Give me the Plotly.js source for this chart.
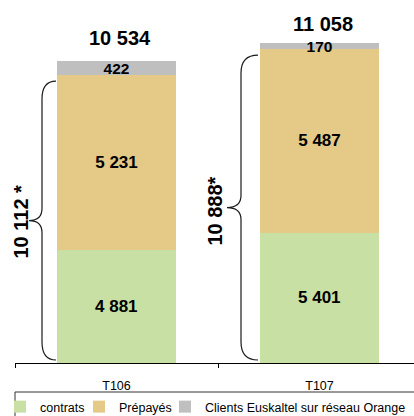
<!DOCTYPE html>
<html><head><meta charset="utf-8">
<script src="https://cdn.plot.ly/plotly-3.0.1.min.js"></script>
<style>html,body{margin:0;padding:0;background:#fff}#chart{width:414px;height:416px}</style>
</head><body><div id="chart"></div>
<script>
// ---- data ----
const categories = ['T106', 'T107'];
const contrats = [4881, 5401];
const prepayes = [5231, 5487];
const euskaltel = [422, 170];
const seriesNames = ['contrats', 'Prépayés', 'Clients Euskaltel sur réseau Orange'];
const braceSuffix = [' *', '*'];

// ---- helpers ----
const fmt = n => String(n).replace(/\B(?=(\d{3})+(?!\d))/g, ' ');
const subtotals = contrats.map((v, i) => v + prepayes[i]);
const totals = subtotals.map((v, i) => v + euskaltel[i]);

const W = 414, H = 416, ML = 15, MR = 0, MT = 20, MB = 53;
const plotW = W - ML - MR, plotH = H - MT - MB;
const Y0 = 1500, Y1 = 11760;
const unitsPerPx = (Y1 - Y0) / plotH;
const px2paper = px => (px - ML) / plotW;
const pyPaper = py => (H - MB - py) / plotH;

const FONT = 'Arial, "Liberation Sans", sans-serif';
const colors = ['#C9E0A5', '#E4CA86', '#BFBFBF'];
const labelSizes = [17, 17, 15.5];
const legendWidths = [34, 41, 200];
// the first series starts below the visible axis start, so its label is placed at the visible middle
const textModes = ['none', 'inside', 'inside'];

function barTrace(vals, i) {
  return {
    type: 'bar', x: categories, y: vals, name: seriesNames[i], width: 0.586,
    marker: {color: colors[i], line: {width: 0}},
    text: vals.map(fmt), textposition: textModes[i], insidetextanchor: 'middle',
    constraintext: 'none',
    textfont: {family: FONT, size: labelSizes[i], color: '#000', weight: 'bold'},
    legendwidth: legendWidths[i], hoverinfo: 'skip'
  };
}
const traces = [barTrace(contrats, 0), barTrace(prepayes, 1), barTrace(euskaltel, 2)];

const shapes = [];
const annotations = [];

// labels of the first series at the middle of its visible part
contrats.forEach((v, i) => {
  annotations.push({
    x: categories[i], y: (Y0 + v) / 2, xref: 'x', yref: 'y', text: fmt(v), showarrow: false,
    xanchor: 'center', yanchor: 'middle',
    font: {family: FONT, size: labelSizes[0], color: '#000', weight: 'bold'}
  });
});

// brace geometry (pixel positions of the brace arms)
const braceX = [{e: 56, v: 42, t: 29, lx: 21}, {e: 258, v: 241, t: 227, lx: 215}];
const braceLabelShift = [-1, -4];
subtotals.forEach((s, i) => {
  const yt = s - 6 * unitsPerPx;
  const yb = Y0 + 3 * unitsPerPx;
  const ym = (yt + yb) / 2;
  const rE = 18 * unitsPerPx, rT = 12 * unitsPerPx;
  const b = braceX[i];
  const xe = px2paper(b.e), xv = px2paper(b.v), xt = px2paper(b.t);
  shapes.push({
    type: 'path', xref: 'paper', yref: 'y',
    path: `M${xe},${yt} Q${xv},${yt} ${xv},${yt - rE} L${xv},${ym + rT} Q${xv},${ym} ${xt},${ym} Q${xv},${ym} ${xv},${ym - rT} L${xv},${yb + rE} Q${xv},${yb} ${xe},${yb}`,
    line: {color: '#1a1a1a', width: 1.2}
  });
  annotations.push({
    xref: 'paper', yref: 'y', x: px2paper(b.lx), y: ym, yshift: braceLabelShift[i],
    text: fmt(s) + braceSuffix[i], textangle: -90, showarrow: false,
    xanchor: 'center', yanchor: 'middle',
    font: {family: FONT, size: 20, color: '#000', weight: 'bold'}
  });
});
const totalShift = [10, 6];
totals.forEach((t, i) => {
  annotations.push({
    x: categories[i], y: t, xref: 'x', yref: 'y', text: fmt(t), showarrow: false,
    xanchor: 'center', yanchor: 'bottom', yshift: totalShift[i], xshift: 3,
    font: {family: FONT, size: 20, color: '#000', weight: 'bold'}
  });
});
// legend frame
shapes.push({
  type: 'rect', xref: 'paper', yref: 'paper',
  x0: 0, x1: 1.1, y0: pyPaper(440), y1: pyPaper(392),
  line: {color: '#333', width: 1}, fillcolor: 'rgba(0,0,0,0)'
});

const layout = {
  width: W, height: H,
  margin: {l: ML, r: MR, t: MT, b: MB, pad: 0, autoexpand: false},
  paper_bgcolor: '#fff', plot_bgcolor: '#fff',
  barmode: 'stack',
  font: {family: FONT, size: 12, color: '#000'},
  showlegend: true,
  legend: {
    orientation: 'h', x: px2paper(0), xanchor: 'left', y: pyPaper(392), yanchor: 'top',
    bgcolor: 'rgba(0,0,0,0)', borderwidth: 0, traceorder: 'normal',
    font: {family: FONT, size: 12.5, color: '#000'}
  },
  xaxis: {
    type: 'category', range: [-0.5, 1.4655], showline: true, linecolor: '#000', linewidth: 1,
    ticks: 'outside', ticklen: 4, tickcolor: '#000', tickwidth: 1, tickson: 'boundaries',
    showgrid: false, zeroline: false, ticklabelstandoff: 11,
    tickfont: {family: FONT, size: 12.5, color: '#000'}, fixedrange: true
  },
  yaxis: {range: [Y0, Y1], visible: false, fixedrange: true},
  shapes: shapes,
  annotations: annotations
};

Plotly.newPlot('chart', traces, layout, {staticPlot: true, displayModeBar: false});
</script>
</body></html>
